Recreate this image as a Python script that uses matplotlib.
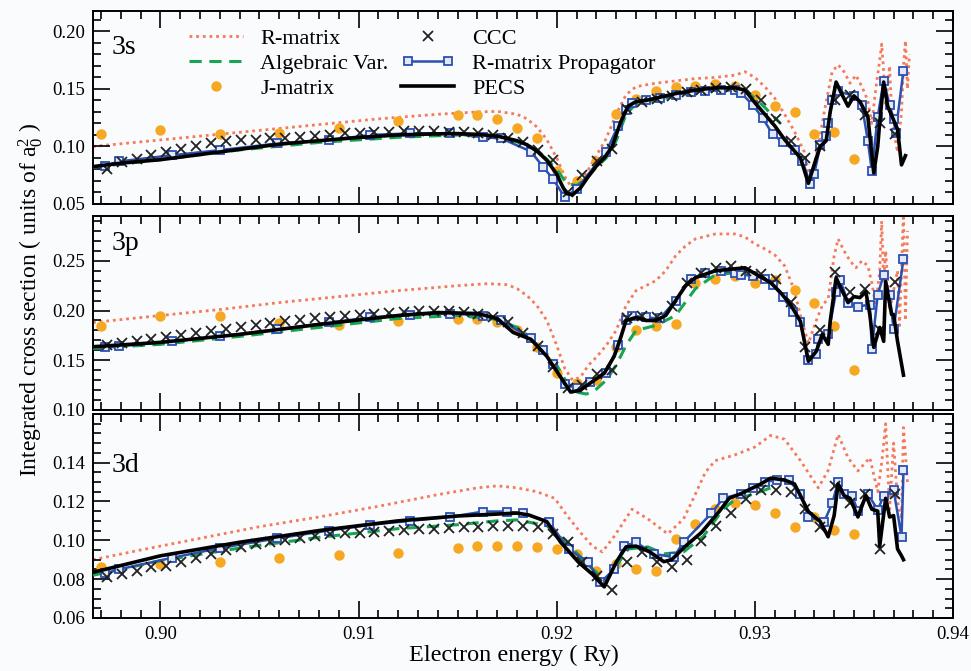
import matplotlib
matplotlib.use('Agg')
import matplotlib.pyplot as plt
from matplotlib.ticker import MultipleLocator, FixedLocator, FormatStrFormatter
from matplotlib.legend_handler import HandlerLine2D

plt.rcParams['font.family'] = ['Liberation Serif', 'DejaVu Serif']
plt.rcParams['mathtext.fontset'] = 'custom'
plt.rcParams['mathtext.rm'] = 'Liberation Serif'
plt.rcParams['mathtext.it'] = 'Liberation Serif:italic'

# ---------------- data (energies in Ry, cross sections in a0^2) ----------------
# CCC energy grid (same for all three panels)
ccc_e = [0.89730, 0.89805, 0.89880, 0.89955, 0.90030, 0.90105, 0.90180, 0.90255, 0.90330, 0.90405,
         0.90480, 0.90555, 0.90630, 0.90705, 0.90780, 0.90855, 0.90930, 0.91005, 0.91080, 0.91155,
         0.91230, 0.91305, 0.91380, 0.91455, 0.91530, 0.91605, 0.91680, 0.91755, 0.91830, 0.91905,
         0.91980, 0.92055, 0.92130, 0.92205, 0.92280, 0.92355, 0.92430, 0.92505, 0.92580, 0.92655,
         0.92730, 0.92805, 0.92880, 0.92955, 0.93030, 0.93105, 0.93180, 0.93255, 0.93330, 0.93405,
         0.93480, 0.93555, 0.93630, 0.93705]
# J-matrix energies
jm_e = [0.897, 0.900, 0.903, 0.906, 0.909, 0.912, 0.915, 0.916, 0.917, 0.918, 0.919, 0.920, 0.921,
        0.922, 0.923, 0.924, 0.925, 0.926, 0.927, 0.928, 0.929, 0.930, 0.931, 0.932, 0.933, 0.934, 0.935]

# ---- 3s ----
pecs_e_3s = [0.8966, 0.8980, 0.9000, 0.9020, 0.9040, 0.9060, 0.9080, 0.9100, 0.9120, 0.9140,
             0.9150, 0.9160, 0.9170, 0.9180, 0.9185, 0.9190, 0.9195, 0.9200, 0.9203, 0.9205,
             0.9208, 0.9212, 0.9216, 0.9220, 0.9224, 0.9228, 0.9232, 0.9236, 0.9240, 0.9245,
             0.9250, 0.9260, 0.9270, 0.9280, 0.9290, 0.9295, 0.9300, 0.9305, 0.9310, 0.9315,
             0.9320, 0.9323, 0.9327, 0.9331, 0.9333, 0.9336, 0.9338, 0.9341, 0.9344, 0.9347,
             0.9350, 0.9353, 0.9357, 0.9360, 0.9362, 0.9363, 0.9365, 0.9367, 0.9370, 0.9372,
             0.9374, 0.9376]
pecs_3s = [0.0825, 0.0855, 0.0885, 0.0930, 0.0975, 0.1020, 0.1050, 0.1078, 0.1100, 0.1110,
           0.1112, 0.1105, 0.1090, 0.1050, 0.1015, 0.0960, 0.0880, 0.0760, 0.0650, 0.0590,
           0.0580, 0.0640, 0.0740, 0.0830, 0.0900, 0.1000, 0.1200, 0.1350, 0.1390, 0.1400,
           0.1420, 0.1460, 0.1490, 0.1510, 0.1510, 0.1490, 0.1380, 0.1280, 0.1180, 0.1060,
           0.0960, 0.0900, 0.0680, 0.0900, 0.1000, 0.1050, 0.1300, 0.1560, 0.1450, 0.1350,
           0.1440, 0.1390, 0.1260, 0.0770, 0.1000, 0.1210, 0.1560, 0.1350, 0.1230, 0.1150,
           0.0840, 0.0920]
prop_e_3s = [0.8972, 0.8979, 0.9006, 0.9030, 0.9059, 0.9085, 0.9106, 0.9126, 0.9146, 0.9163,
             0.9172, 0.9187, 0.9193, 0.9198, 0.9204, 0.9210, 0.9225, 0.9231, 0.9235, 0.9238,
             0.9245, 0.9252, 0.9260, 0.9268, 0.9275, 0.9283, 0.9290, 0.9293, 0.9299, 0.9304,
             0.9309, 0.9314, 0.9320, 0.9324, 0.9328, 0.9330, 0.9333, 0.9336, 0.9337, 0.9339,
             0.9342, 0.9350, 0.9354, 0.9357, 0.9359, 0.9362, 0.9365, 0.9368, 0.9370, 0.9371,
             0.9375]
prop_3s = [0.0830, 0.0870, 0.0924, 0.0968, 0.1026, 0.1055, 0.1100, 0.1114, 0.1114, 0.1080,
           0.1070, 0.0956, 0.0825, 0.0720, 0.0560, 0.0630, 0.0956, 0.1180, 0.1320, 0.1380,
           0.1400, 0.1420, 0.1450, 0.1470, 0.1480, 0.1490, 0.1490, 0.1465, 0.1360, 0.1245,
           0.1105, 0.1040, 0.0965, 0.0870, 0.0675, 0.0763, 0.1009, 0.1088, 0.1200, 0.1400,
           0.1480, 0.1440, 0.1360, 0.1050, 0.0790, 0.1260, 0.1570, 0.1360, 0.1240, 0.1120,
           0.1660]
ccc_3s = [0.0807, 0.0866, 0.0895, 0.0924, 0.0953, 0.0982, 0.1006, 0.1026, 0.1047, 0.1055,
          0.1055, 0.1070, 0.1070, 0.1085, 0.1094, 0.1100, 0.1114, 0.1114, 0.1129, 0.1129,
          0.1137, 0.1137, 0.1137, 0.1129, 0.1123, 0.1115, 0.1100, 0.1075, 0.1035, 0.0970,
          0.0880, 0.0600, 0.0750, 0.0870, 0.0980, 0.1330, 0.1390, 0.1410, 0.1440, 0.1470,
          0.1490, 0.1510, 0.1520, 0.1500, 0.1400, 0.1240, 0.1050, 0.0900, 0.1000, 0.1400,
          0.1450, 0.1270, 0.1200, 0.1110]
jm_3s = [0.1105, 0.114, 0.1105, 0.1114, 0.116, 0.122, 0.127, 0.127, 0.124, 0.116, 0.107, 0.079,
         0.070, 0.087, 0.128, 0.141, 0.148, 0.152, 0.153, 0.154, 0.153, 0.145, 0.135, 0.130,
         0.111, 0.113, 0.089]
rm_e_3s = [0.8966, 0.8990, 0.9020, 0.9050, 0.9080, 0.9110, 0.9140, 0.9160, 0.9170, 0.9180,
           0.9185, 0.9190, 0.9195, 0.9200, 0.9204, 0.9208, 0.9212, 0.9216, 0.9220, 0.9225,
           0.9230, 0.9235, 0.9240, 0.9250, 0.9260, 0.9270, 0.9280, 0.9290, 0.9295, 0.9300,
           0.9305, 0.9310, 0.9315, 0.9320, 0.9325, 0.9328, 0.9332, 0.9335, 0.9339, 0.9342,
           0.9345, 0.9348, 0.9351, 0.9354, 0.9357, 0.9359, 0.9361, 0.9363, 0.9364, 0.9365,
           0.9366, 0.9368, 0.9369, 0.9371, 0.9372, 0.9374, 0.9375, 0.9376, 0.9377, 0.9378]
rm_3s = [0.100, 0.104, 0.109, 0.114, 0.119, 0.124, 0.128, 0.130, 0.1305, 0.128,
         0.124, 0.117, 0.106, 0.090, 0.074, 0.063, 0.068, 0.080, 0.092, 0.107,
         0.128, 0.145, 0.152, 0.155, 0.157, 0.159, 0.160, 0.162, 0.165, 0.160,
         0.152, 0.142, 0.128, 0.113, 0.095, 0.070, 0.100, 0.130, 0.165, 0.171,
         0.165, 0.155, 0.162, 0.152, 0.140, 0.120, 0.150, 0.175, 0.189, 0.165,
         0.135, 0.170, 0.130, 0.105, 0.095, 0.130, 0.170, 0.192, 0.150, 0.180]
alg_e_3s = [0.8966, 0.9000, 0.9040, 0.9080, 0.9120, 0.9150, 0.9170, 0.9180, 0.9190, 0.9195,
            0.9200, 0.9205, 0.9210, 0.9215, 0.9220, 0.9225, 0.9230, 0.9235, 0.9240, 0.9250,
            0.9260, 0.9270, 0.9280, 0.9290, 0.9295, 0.9300, 0.9305, 0.9310, 0.9313]
alg_3s = [0.082, 0.0885, 0.097, 0.1035, 0.108, 0.110, 0.108, 0.104, 0.096, 0.089,
          0.080, 0.068, 0.066, 0.072, 0.082, 0.090, 0.105, 0.128, 0.137, 0.140,
          0.144, 0.147, 0.149, 0.149, 0.148, 0.142, 0.134, 0.125, 0.120]

# ---- 3p ----
pecs_e_3p = [0.8966, 0.9000, 0.9040, 0.9080, 0.9120, 0.9140, 0.9160, 0.9170, 0.9178, 0.9187,
             0.9195, 0.9202, 0.9207, 0.9212, 0.9219, 0.9224, 0.9229, 0.9232, 0.9235, 0.9240,
             0.9245, 0.9250, 0.9255, 0.9260, 0.9265, 0.9270, 0.9280, 0.9290, 0.9295, 0.9308,
             0.9313, 0.9318, 0.9323, 0.9327, 0.9331, 0.9334, 0.9337, 0.9338, 0.9341, 0.9343,
             0.9347, 0.9350, 0.9353, 0.9356, 0.9358, 0.9360, 0.9363, 0.9365, 0.9366, 0.9369,
             0.9370, 0.9372, 0.9375]
pecs_3p = [0.1636, 0.168, 0.176, 0.186, 0.195, 0.198, 0.197, 0.192, 0.178, 0.171,
           0.154, 0.133, 0.118, 0.120, 0.130, 0.137, 0.154, 0.171, 0.190, 0.193,
           0.190, 0.190, 0.195, 0.210, 0.225, 0.233, 0.240, 0.242, 0.243, 0.228,
           0.218, 0.206, 0.189, 0.149, 0.159, 0.176, 0.166, 0.189, 0.233, 0.224,
           0.208, 0.214, 0.213, 0.219, 0.196, 0.163, 0.183, 0.169, 0.229, 0.196,
           0.196, 0.169, 0.135]
prop_e_3p = [0.8972, 0.8979, 0.9006, 0.9030, 0.9059, 0.9085, 0.9106, 0.9126, 0.9146, 0.9163,
             0.9172, 0.9187, 0.9193, 0.9198, 0.9204, 0.9210, 0.9217, 0.9225, 0.9231, 0.9235,
             0.9238, 0.9245, 0.9252, 0.9260, 0.9268, 0.9275, 0.9283, 0.9290, 0.9293, 0.9299,
             0.9305, 0.9309, 0.9314, 0.9319, 0.9323, 0.9327, 0.9331, 0.9332, 0.9337, 0.9341,
             0.9343, 0.9347, 0.9352, 0.9358, 0.9359, 0.9362, 0.9365, 0.9368, 0.9370, 0.9375]
prop_3p = [0.163, 0.164, 0.169, 0.174, 0.181, 0.188, 0.193, 0.196, 0.197, 0.195,
           0.190, 0.172, 0.160, 0.146, 0.126, 0.122, 0.128, 0.137, 0.165, 0.190,
           0.195, 0.193, 0.192, 0.210, 0.232, 0.238, 0.240, 0.238, 0.236, 0.235,
           0.232, 0.226, 0.214, 0.199, 0.188, 0.150, 0.156, 0.171, 0.176, 0.219,
           0.231, 0.208, 0.204, 0.206, 0.161, 0.216, 0.236, 0.216, 0.181, 0.252]
ccc_3p = [0.165, 0.167, 0.169, 0.171, 0.173, 0.175, 0.177, 0.179, 0.181, 0.183,
          0.185, 0.187, 0.189, 0.190, 0.192, 0.193, 0.195, 0.196, 0.197, 0.198,
          0.199, 0.200, 0.200, 0.200, 0.199, 0.197, 0.194, 0.188, 0.177, 0.164,
          0.143, 0.122, 0.125, 0.136, 0.140, 0.192, 0.195, 0.194, 0.205, 0.228,
          0.238, 0.243, 0.245, 0.2394, 0.2364, 0.2313, 0.209, 0.1636, 0.1808, 0.2384,
          0.2182, 0.2212, 0.1808, 0.2283]
jm_3p = [0.184, 0.195, 0.195, 0.187, 0.185, 0.189, 0.191, 0.191, 0.188, 0.180, 0.163, 0.137,
         0.127, 0.130, 0.163, 0.180, 0.184, 0.186, 0.228, 0.232, 0.235, 0.228, 0.231, 0.221,
         0.208, 0.184, 0.140]
rm_e_3p = [0.8966, 0.9000, 0.9030, 0.9060, 0.9090, 0.9120, 0.9150, 0.9165, 0.9175, 0.9180,
           0.9185, 0.9190, 0.9195, 0.9200, 0.9204, 0.9208, 0.9212, 0.9216, 0.9220, 0.9225,
           0.9230, 0.9235, 0.9240, 0.9245, 0.9250, 0.9255, 0.9260, 0.9265, 0.9270, 0.9280,
           0.9290, 0.9295, 0.9300, 0.9305, 0.9310, 0.9315, 0.9320, 0.9323, 0.9327, 0.9331,
           0.9334, 0.9337, 0.9340, 0.9342, 0.9345, 0.9348, 0.9351, 0.9354, 0.9357, 0.9359,
           0.9361, 0.9363, 0.9364, 0.9365, 0.9366, 0.9368, 0.9370, 0.9372, 0.9373, 0.9375,
           0.9376, 0.9377]
rm_3p = [0.188, 0.195, 0.201, 0.208, 0.214, 0.220, 0.225, 0.227, 0.226, 0.222,
         0.215, 0.205, 0.190, 0.165, 0.142, 0.130, 0.133, 0.145, 0.153, 0.165,
         0.180, 0.205, 0.220, 0.225, 0.230, 0.240, 0.255, 0.265, 0.272, 0.277,
         0.277, 0.274, 0.267, 0.262, 0.256, 0.245, 0.220, 0.195, 0.167, 0.190,
         0.205, 0.212, 0.255, 0.272, 0.260, 0.250, 0.243, 0.250, 0.245, 0.228,
         0.205, 0.240, 0.290, 0.230, 0.260, 0.200, 0.220, 0.240, 0.185, 0.300,
         0.190, 0.280]
alg_e_3p = [0.8966, 0.9000, 0.9040, 0.9080, 0.9120, 0.9150, 0.9170, 0.9180, 0.9190, 0.9200,
            0.9205, 0.9210, 0.9215, 0.9220, 0.9225, 0.9230, 0.9235, 0.9240, 0.9250, 0.9260,
            0.9270, 0.9280, 0.9290, 0.9300, 0.9310]
alg_3p = [0.162, 0.166, 0.174, 0.183, 0.192, 0.195, 0.191, 0.183, 0.168, 0.145,
          0.128, 0.118, 0.116, 0.121, 0.130, 0.145, 0.165, 0.180, 0.185, 0.195,
          0.222, 0.236, 0.238, 0.236, 0.228]

# ---- 3d ----
pecs_e_3d = [0.8966, 0.9000, 0.9040, 0.9080, 0.9120, 0.9150, 0.9170, 0.9180, 0.9186, 0.9195,
             0.9202, 0.9211, 0.9218, 0.9224, 0.9230, 0.9235, 0.9240, 0.9247, 0.9254, 0.9258,
             0.9265, 0.9273, 0.9282, 0.9287, 0.9293, 0.9303, 0.9308, 0.9315, 0.9320, 0.9323,
             0.9327, 0.9333, 0.9337, 0.9340, 0.9342, 0.9345, 0.9348, 0.9352, 0.9356, 0.9359,
             0.9362, 0.9363, 0.9366, 0.9368, 0.9370, 0.9372, 0.9374, 0.9375]
pecs_3d = [0.0835, 0.092, 0.099, 0.105, 0.110, 0.1125, 0.1135, 0.114, 0.113, 0.1096,
           0.099, 0.0887, 0.0825, 0.076, 0.0887, 0.0966, 0.097, 0.094, 0.089, 0.090,
           0.097, 0.104, 0.1148, 0.1216, 0.124, 0.129, 0.132, 0.131, 0.129, 0.123,
           0.1148, 0.1096, 0.1018, 0.1127, 0.129, 0.123, 0.1216, 0.112, 0.123, 0.116,
           0.115, 0.097, 0.1216, 0.112, 0.1127, 0.0955, 0.092, 0.090]
prop_e_3d = [0.8972, 0.8979, 0.9006, 0.9030, 0.9059, 0.9085, 0.9106, 0.9126, 0.9146, 0.9163,
             0.9175, 0.9183, 0.9196, 0.9206, 0.9216, 0.9222, 0.9229, 0.9234, 0.9240, 0.9249,
             0.9259, 0.9264, 0.9278, 0.9284, 0.9293, 0.9299, 0.9305, 0.9311, 0.9317, 0.9323,
             0.9327, 0.9335, 0.9339, 0.9342, 0.9345, 0.9349, 0.9352, 0.9357, 0.9362, 0.9365,
             0.9370, 0.9374, 0.9375]
prop_3d = [0.083, 0.085, 0.091, 0.096, 0.101, 0.105, 0.108, 0.110, 0.112, 0.1148,
           0.1148, 0.1138, 0.1096, 0.0955, 0.0887, 0.0783, 0.085, 0.097, 0.099, 0.093,
           0.0913, 0.099, 0.1138, 0.1216, 0.124, 0.127, 0.130, 0.131, 0.131, 0.124,
           0.112, 0.1096, 0.119, 0.130, 0.124, 0.123, 0.115, 0.124, 0.1155, 0.123,
           0.126, 0.1018, 0.136]
ccc_3d = [0.081, 0.0825, 0.084, 0.086, 0.087, 0.089, 0.091, 0.093, 0.095, 0.0966,
          0.098, 0.099, 0.100, 0.101, 0.102, 0.103, 0.1035, 0.104, 0.1045, 0.105,
          0.1055, 0.106, 0.106, 0.1065, 0.107, 0.107, 0.1075, 0.1075, 0.1075, 0.107,
          0.1033, 0.099, 0.0887, 0.0814, 0.0746, 0.089, 0.094, 0.089, 0.086, 0.090,
          0.0997, 0.1075, 0.1138, 0.121, 0.126, 0.126, 0.125, 0.116, 0.107, 0.128,
          0.119, 0.124, 0.0955, 0.124]
jm_3d = [0.086, 0.0877, 0.089, 0.091, 0.0924, 0.0934, 0.096, 0.097, 0.097, 0.097, 0.0966, 0.0955,
         0.093, 0.084, 0.088, 0.085, 0.084, 0.1007, 0.1086, 0.116, 0.119, 0.118, 0.1138, 0.107,
         0.112, 0.1055, 0.103]
rm_e_3d = [0.8966, 0.8990, 0.9020, 0.9050, 0.9080, 0.9110, 0.9140, 0.9160, 0.9170, 0.9180,
           0.9190, 0.9199, 0.9205, 0.9212, 0.9218, 0.9223, 0.9229, 0.9238, 0.9246, 0.9256,
           0.9264, 0.9269, 0.9275, 0.9280, 0.9290, 0.9300, 0.9308, 0.9315, 0.9323, 0.9332,
           0.9337, 0.9342, 0.9347, 0.9352, 0.9358, 0.9362, 0.9364, 0.9366, 0.9368, 0.9370,
           0.9372, 0.9374, 0.9375, 0.9377]
rm_3d = [0.090, 0.095, 0.101, 0.107, 0.112, 0.1175, 0.1235, 0.127, 0.128, 0.127,
         0.125, 0.1216, 0.113, 0.104, 0.097, 0.094, 0.102, 0.116, 0.111, 0.1033,
         0.111, 0.1216, 0.135, 0.141, 0.144, 0.148, 0.154, 0.152, 0.141, 0.127,
         0.136, 0.1545, 0.1425, 0.1357, 0.1425, 0.125, 0.140, 0.160, 0.116, 0.150,
         0.120, 0.111, 0.158, 0.130]
alg_e_3d = [0.8966, 0.9000, 0.9040, 0.9080, 0.9120, 0.9150, 0.9170, 0.9180, 0.9195, 0.9205,
            0.9215, 0.9225, 0.9230, 0.9236, 0.9246, 0.9254, 0.9264, 0.9274, 0.9284, 0.9290,
            0.9300, 0.9308, 0.9310]
alg_3d = [0.082, 0.0895, 0.096, 0.1015, 0.106, 0.108, 0.110, 0.1105, 0.1075, 0.099,
          0.088, 0.079, 0.0866, 0.0955, 0.0966, 0.093, 0.094, 0.102, 0.116, 0.121,
          0.124, 0.127, 0.126]

panel_names = ['3s', '3p', '3d']
ylims = [(0.05, 0.218), (0.10, 0.295), (0.06, 0.165)]
# labelled ticks per panel
yticks_3s = [0.05, 0.10, 0.15, 0.20]
yticks_3p = [0.10, 0.15, 0.20, 0.25]
yticks_3d = [0.06, 0.08, 0.10, 0.12, 0.14]
yminor = [0.01, 0.01, 0.005]

# ---------------- styles ----------------
c_rm = '#f47a5a'
c_alg = '#17a552'
c_jm = '#f7a823'
c_prop = '#2b50b2'
bg = '#fafbfd'

fig = plt.figure(figsize=(9.71, 6.71), dpi=100, facecolor=bg)
boxes = [(0.0958, 0.696, 0.8857, 0.288),
         (0.0958, 0.389, 0.8857, 0.289),
         (0.0958, 0.079, 0.8857, 0.304)]

panels = [
    (pecs_e_3s, pecs_3s, prop_e_3s, prop_3s, ccc_3s, jm_3s, rm_e_3s, rm_3s, alg_e_3s, alg_3s),
    (pecs_e_3p, pecs_3p, prop_e_3p, prop_3p, ccc_3p, jm_3p, rm_e_3p, rm_3p, alg_e_3p, alg_3p),
    (pecs_e_3d, pecs_3d, prop_e_3d, prop_3d, ccc_3d, jm_3d, rm_e_3d, rm_3d, alg_e_3d, alg_3d),
]
yticks = [yticks_3s, yticks_3p, yticks_3d]
label_y = [0.81, 0.86, 0.75]

axes = []
for i, (pe, pv, be, bv, cv, jv, re_, rv, ae, av) in enumerate(panels):
    ax = fig.add_axes(boxes[i], facecolor=bg)
    axes.append(ax)
    l_rm, = ax.plot(re_, rv, linestyle=(0, (1, 1.4)), color=c_rm, lw=2.0, zorder=1, label='R-matrix')
    l_jm, = ax.plot(jm_e, jv, 'o', color=c_jm, ms=7.5, mec='none', zorder=2, label='J-matrix')
    l_alg, = ax.plot(ae, av, '--', color=c_alg, lw=2.2, dashes=(4, 2.5), zorder=3, label='Algebraic Var.')
    l_prop, = ax.plot(be, bv, '-', color=c_prop, lw=1.8, marker='s', ms=5.5, mfc='#e3e8f6',
                      mec=c_prop, mew=1.3, zorder=4, label='R-matrix Propagator')
    l_ccc, = ax.plot(ccc_e, cv, 'x', color='#222222', ms=7.5, mew=1.3, zorder=5, label='CCC')
    l_pecs, = ax.plot(pe, pv, '-', color='black', lw=2.6, zorder=6, label='PECS')

    ax.set_xlim(0.8966, 0.94)
    ax.set_ylim(*ylims[i])
    ax.xaxis.set_major_locator(MultipleLocator(0.01))
    ax.xaxis.set_minor_locator(MultipleLocator(0.001))
    ax.yaxis.set_major_locator(FixedLocator(yticks[i]))
    ax.yaxis.set_minor_locator(MultipleLocator(yminor[i]))
    ax.yaxis.set_major_formatter(FormatStrFormatter('%.2f'))
    ax.xaxis.set_major_formatter(FormatStrFormatter('%.2f'))
    ax.tick_params(which='both', direction='in', top=True, right=True, width=1.2, labelsize=13.5)
    ax.tick_params(which='major', length=12, pad=6)
    ax.tick_params(which='minor', length=6)
    for s in ax.spines.values():
        s.set_linewidth(1.4)
    if i < 2:
        ax.tick_params(labelbottom=False)
    ax.text(0.022, label_y[i], panel_names[i], transform=ax.transAxes, fontsize=20, va='center')

    if i == 0:
        handles = [l_rm, l_alg, l_jm, l_ccc, l_prop, l_pecs]
        ax.legend(handles=handles, loc='upper left', bbox_to_anchor=(0.112, 0.91), ncol=2,
                  frameon=False, fontsize=16, numpoints=1, handlelength=2.4, handletextpad=0.8,
                  columnspacing=0.55, labelspacing=0.2, borderpad=0, borderaxespad=0,
                  handler_map={l_prop: HandlerLine2D(numpoints=2)})

axes[2].set_xlabel('Electron energy ( Ry)', fontsize=17.5)
axes[2].xaxis.set_label_coords(0.49, -0.185, transform=axes[2].transAxes)
axes[2].xaxis.label.set_va('center')
fig.text(0.031, 0.553, r'Integrated cross section ( units of a$_0^2$ )', rotation=90,
         fontsize=17, ha='center', va='center')

fig.savefig('out.png', dpi=100, facecolor=bg)
